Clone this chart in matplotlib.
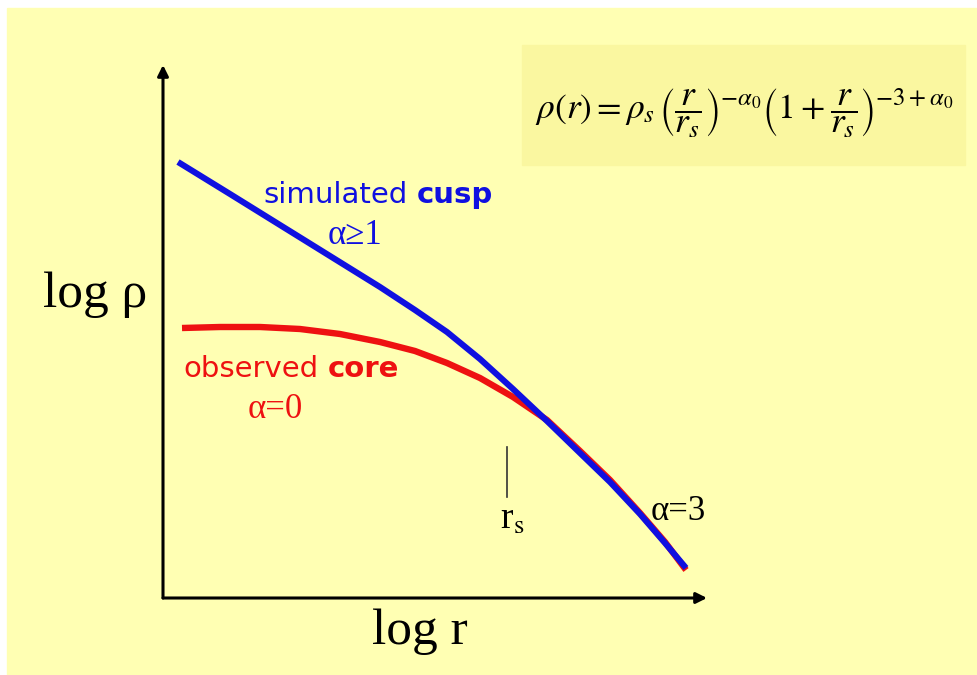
import numpy as np
from matplotlib import pyplot as plt
from matplotlib import patches as mpatches

# schematic density profiles
# x = log r, y = log rho (arbitrary units, origin at the axes corner)
cusp_logr = [0.15, 0.67, 1.17, 1.67, 2.17, 2.52, 2.84, 3.17, 3.50,
             3.84, 4.17, 4.47, 4.77, 5.02, 5.23]
cusp_logrho = [4.36, 4.04, 3.73, 3.42, 3.11, 2.88, 2.66, 2.39, 2.09,
               1.77, 1.45, 1.16, 0.84, 0.55, 0.30]

core_logr = [0.19, 0.57, 0.97, 1.37, 1.77, 2.17, 2.52, 2.84, 3.17,
             3.50, 3.84, 4.17, 4.47, 4.77, 5.02, 5.23]
core_logrho = [2.70, 2.71, 2.71, 2.69, 2.64, 2.56, 2.47, 2.35, 2.20,
               2.01, 1.78, 1.47, 1.18, 0.85, 0.56, 0.28]

rs_pos = 3.44
x_max = 5.44
y_max = 5.33

BG = '#FFFFB3'
BOX = '#FAF7A0'
BLUE = '#1010E0'
RED = '#EE1111'

plt.rcParams['mathtext.fontset'] = 'stix'

fig = plt.figure(figsize=(9.78, 6.75), dpi=100)
fig.patch.set_facecolor('white')
fig.add_artist(mpatches.Rectangle((7 / 978, 0), 1, 1 - 8 / 675,
                                  transform=fig.transFigure,
                                  color=BG, zorder=0))
# formula box
fig.add_artist(mpatches.Rectangle((522 / 978, 1 - 165 / 675),
                                  443 / 978, 120 / 675,
                                  transform=fig.transFigure,
                                  color=BOX, zorder=1))
fig.text(744 / 978, 1 - 112 / 675,
         r'$\rho(r) = \rho_s\,\left(\dfrac{r}{r_s}\right)^{-\alpha_0}'
         r'\left(1+\dfrac{r}{r_s}\right)^{-3+\alpha_0}$',
         fontsize=25.5, ha='center', va='center', zorder=2)

ax = fig.add_axes([163 / 978, 77 / 675, 544 / 978, 533 / 675])
ax.set_xlim(0, x_max)
ax.set_ylim(0, y_max)
ax.axis('off')

# axes arrows
arrow = dict(arrowstyle='-|>', lw=2.2, color='black', mutation_scale=16,
             shrinkA=0, shrinkB=0)
ax.annotate('', xy=(0, y_max), xytext=(0, 0), arrowprops=arrow)
ax.annotate('', xy=(x_max, 0), xytext=(0, 0), arrowprops=arrow)

ax.plot(core_logr, core_logrho, color=RED, lw=4.6, solid_capstyle='butt',
        solid_joinstyle='round', zorder=3)
ax.plot(cusp_logr, cusp_logrho, color=BLUE, lw=4.4, solid_capstyle='butt',
        solid_joinstyle='round', zorder=4)

# r_s marker
ax.plot([rs_pos, rs_pos], [1.01, 1.51], color='#333333', lw=1.2)
ax.text(rs_pos + 0.05, 0.78, r'r$_\mathrm{s}$', fontsize=27,
        family='Liberation Serif', ha='center', va='center')

ax.text(-0.68, 3.03, 'log ρ', fontsize=37, family='Liberation Serif',
        ha='center', va='center', clip_on=False)
ax.text(2.57, -0.34, 'log r', fontsize=37, family='Liberation Serif',
        ha='center', va='center', clip_on=False)

t1 = ax.text(1.0, 3.95, 'simulated', fontsize=21, color=BLUE, ha='left',
             va='baseline')
ax.annotate('cusp', xy=(1, 0), xycoords=t1, xytext=(7, 0),
            textcoords='offset points', fontsize=21, color=BLUE,
            fontweight='bold', va='bottom')
ax.text(1.92, 3.63, 'α≥1', fontsize=25, color=BLUE, ha='center',
        va='center', family='Liberation Serif')

t2 = ax.text(0.2, 2.21, 'observed', fontsize=21, color=RED, ha='left',
             va='baseline')
ax.annotate('core', xy=(1, 0), xycoords=t2, xytext=(7, 0),
            textcoords='offset points', fontsize=21, color=RED,
            fontweight='bold', va='bottom')
ax.text(1.12, 1.88, 'α=0', fontsize=25, color=RED, ha='center',
        va='center', family='Liberation Serif')

ax.text(5.15, 0.86, 'α=3', fontsize=25, color='black', ha='center',
        va='center', family='Liberation Serif')

fig.savefig('out.png', dpi=100, facecolor=fig.get_facecolor())
